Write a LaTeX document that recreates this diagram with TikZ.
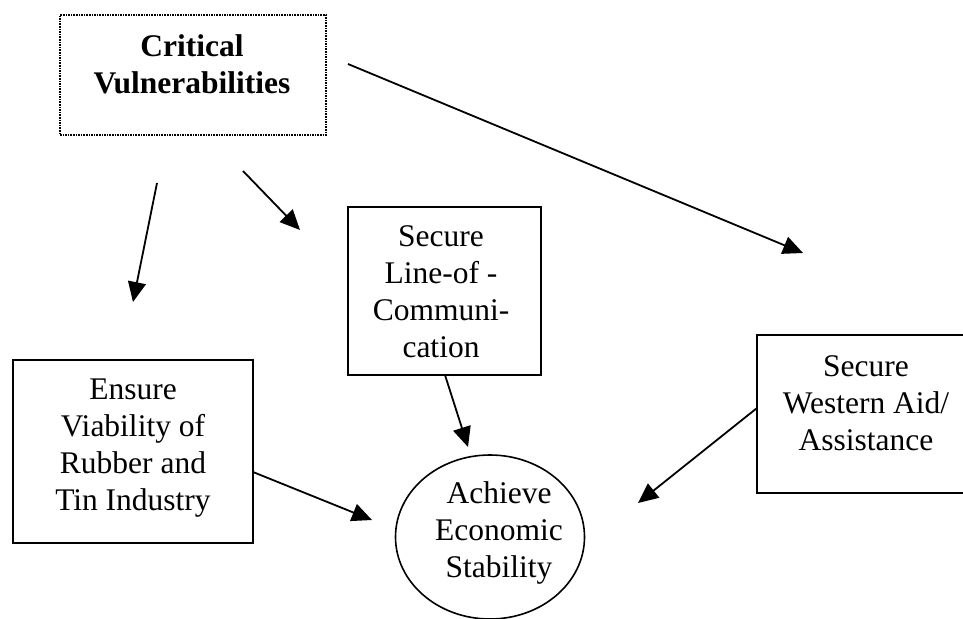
\documentclass[tikz,border=0pt]{standalone}
\usepackage{fontspec}
\setmainfont{Liberation Serif}
\usetikzlibrary{arrows.meta,shapes.geometric}
\tikzset{
  box/.style={draw, line width=2.1pt, rectangle, inner sep=0pt},
  label/.style={align=center, inner sep=0pt, font=\fontsize{31.5}{37}\selectfont},
  link/.style={line width=1.8pt, -{Triangle[length=20pt,width=18pt]}},
}
\begin{document}
\begin{tikzpicture}[x=1pt,y=-1pt]
\useasboundingbox (0,0) rectangle (963,618);
% boxes (texts are placed by the baseline of their last line)
\node[draw, line width=1.6pt, densely dotted, minimum width=266pt, minimum height=120pt, inner sep=0pt] (crit) at (193,75) {};
\node[label, font=\fontsize{31.5}{37}\selectfont\bfseries, anchor=base] (critT) at (192,93) {Critical\\Vulnerabilities};
\node[box, minimum width=240pt, minimum height=183pt] (ensure) at (133,451.5) {};
\node[label, anchor=base] (ensureT) at (133,510) {Ensure\\Viability of\\Rubber and\\Tin Industry};
\node[box, minimum width=193pt, minimum height=168pt] (loc) at (444.5,291) {};
\node[label, anchor=base] (locT) at (441,357) {Secure\\Line-of -\\Communi-\\cation};
\node[box, minimum width=218pt, minimum height=158pt] (west) at (866,414) {};
\node[label, anchor=base] (westT) at (866,450) {Secure\\Western Aid/\\Assistance};
\node[draw, ellipse, line width=1.6pt, minimum width=189pt, minimum height=164pt, inner sep=0pt] (goal) at (490,537) {};
\node[label, anchor=base] (goalT) at (499,577) {Achieve\\Economic\\Stability};
% connector end points
\coordinate (a1s) at (157,183); \coordinate (a1e) at (133,302);
\coordinate (a2s) at (243,171); \coordinate (a2e) at (300,230);
\coordinate (a3s) at (348,64);  \coordinate (a3e) at (803,253);
\coordinate (a4s) at (445,375); \coordinate (a4e) at (468,447);
\coordinate (a5s) at (253,472); \coordinate (a5e) at (372,520);
\coordinate (a6s) at (757,408); \coordinate (a6e) at (638,503);
% connectors
\draw[link] (a1s) -- (a1e);
\draw[link] (a2s) -- (a2e);
\draw[link] (a3s) -- (a3e);
\draw[link] (a4s) -- (a4e);
\draw[link] (a5s) -- (a5e);
\draw[link] (a6s) -- (a6e);
\end{tikzpicture}
\end{document}
